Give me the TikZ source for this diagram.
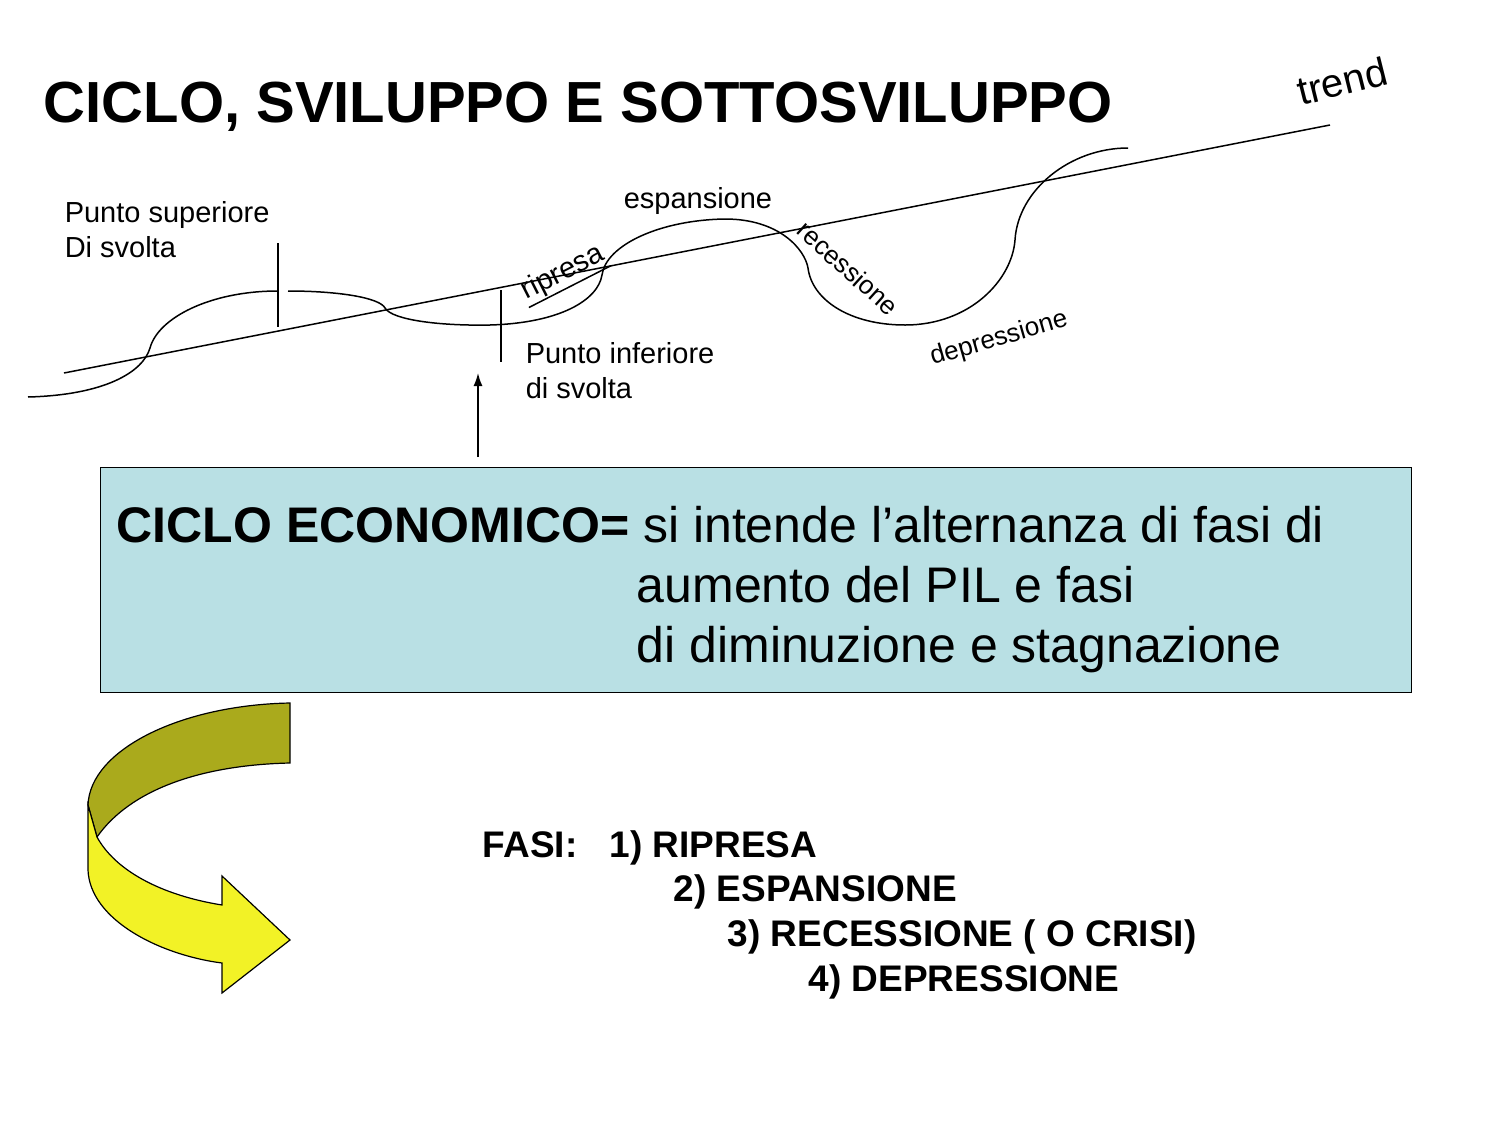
\documentclass[tikz,border=0pt]{standalone}
\usepackage{fontspec}
\setmainfont{Liberation Sans}
\usetikzlibrary{arrows.meta}
\definecolor{boxblue}{RGB}{185,224,228}
\definecolor{backolive}{RGB}{170,170,28}
\definecolor{frontyellow}{RGB}{242,242,38}

\begin{document}
\begin{tikzpicture}[x=1pt, y=-1pt, line width=1.5pt,
  label29/.style={font=\fontsize{29}{35}\selectfont, inner sep=0pt, anchor=base west},
  tilted/.style={font=\fontsize{26}{31}\selectfont, inner sep=0pt},
  boxtext/.style={font=\fontsize{50}{60}\selectfont, inner sep=0pt, anchor=base west},
  phase/.style={font=\bfseries\fontsize{37}{45}\selectfont, inner sep=0pt, anchor=base west}]
\useasboundingbox (0,0) rectangle (1500,1125);

%Title
\node[font=\bfseries\fontsize{58}{70}\selectfont, inner sep=0pt, anchor=base west] (title) at (43,122) {CICLO, SVILUPPO E SOTTOSVILUPPO};

%trend
\draw (64,373) -- (1330,125);
\node[font=\fontsize{40}{48}\selectfont, inner sep=0pt, rotate=14] (trend) at (1342,81) {trend};

%wave
\draw (28,397) .. controls (105,395) and (143,372) .. (150,348)
  .. controls (158,318) and (210,291) .. (278,291);
\draw (288,291) .. controls (340,291) and (380,298) .. (385,308)
  .. controls (392,320) and (440,326) .. (490,325)
  .. controls (560,323) and (598,300) .. (602,275)
  .. controls (606,245) and (660,220) .. (725,219)
  .. controls (780,219) and (805,250) .. (808,268)
  .. controls (812,300) and (850,325) .. (905,325)
  .. controls (970,325) and (1012,280) .. (1015,240)
  .. controls (1018,190) and (1070,148) .. (1128,148);

%turning points
\draw (278,243) -- (278,327);
\draw (501,290) -- (501,362);
\node[label29] (supA) at (64,222) {Punto superiore};
\node[label29] (supB) at (64,257) {Di svolta};
\node[label29] (infA) at (525,363) {Punto inferiore};
\node[label29] (infB) at (525,398) {di svolta};

%phases on the wave
\node[label29] (espansione) at (623,208) {espansione};
\node[font=\fontsize{29}{35}\selectfont, inner sep=1pt, rotate=27] (ripresa) at (563,273) {ripresa};
\draw (ripresa.south west) -- (ripresa.south east);
\node[tilted, rotate=-42] (recessione) at (848,268) {recessione};
\node[tilted, rotate=16] (depressione) at (999,339) {depressione};

%definition box
\node[draw, fill=boxblue, line width=1.2pt, anchor=north west, minimum width=1311, minimum height=225, inner sep=0pt] (ciclo) at (100,467) {};
\node[boxtext] (defA) at (116,542) {\textbf{CICLO ECONOMICO=} si intende l’alternanza di fasi di};
\node[boxtext] (defB) at (636,602) {aumento del PIL e fasi};
\node[boxtext] (defC) at (636,662) {di diminuzione e stagnazione};

\coordinate (arrowfoot) at (478,457);
\coordinate (arrowtip) at (478,373);
\draw[-{Latex[length=13pt,width=9pt]}] (arrowfoot) -- (arrowtip);

%curved arrow
\filldraw[fill=backolive, line width=1.2pt] (290,703) .. controls (180,705) and (90,750) .. (88,805)
  -- (97,837) .. controls (130,790) and (200,765) .. (290,763) -- cycle;
\filldraw[fill=frontyellow, line width=1.2pt] (88,805) -- (88,870)
  .. controls (90,920) and (160,955) .. (222,963) -- (222,993) -- (290,940) -- (222,876) -- (222,905)
  .. controls (160,895) and (115,870) .. (97,837) -- cycle;

%phases list
\node[phase] (fasi) at (482,857) {FASI:};
\node[phase] (f1) at (609,857) {1) RIPRESA};
\node[phase] (f2) at (673,901) {2) ESPANSIONE};
\node[phase] (f3) at (727,946) {3) RECESSIONE ( O CRISI)};
\node[phase] (f4) at (808,991) {4) DEPRESSIONE};
\end{tikzpicture}
\end{document}
